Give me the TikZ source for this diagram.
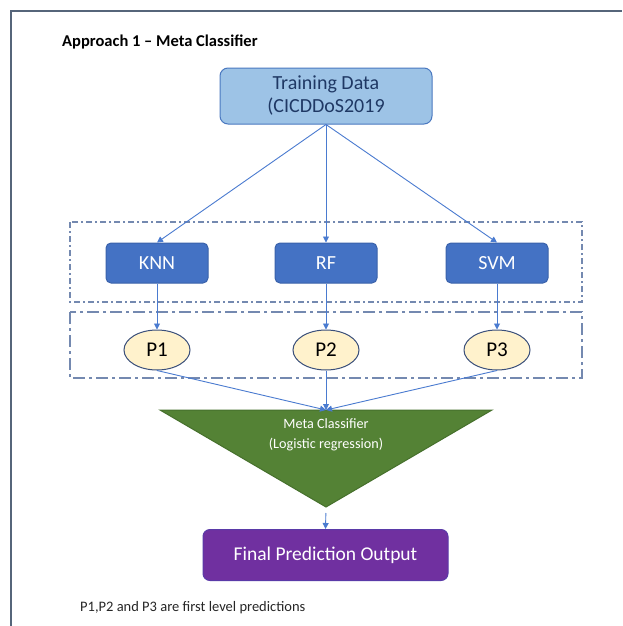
\documentclass[tikz,border=0pt]{standalone}
\usepackage{fontspec}
\setmainfont{Carlito}
\usetikzlibrary{arrows.meta,shapes.geometric}
\definecolor{framec}{HTML}{56657A}
\definecolor{arrowc}{HTML}{4A7BD0}
\definecolor{dashc}{HTML}{7489B0}
\definecolor{tdfill}{HTML}{9DC3E6}
\definecolor{tdborder}{HTML}{4A78C0}
\definecolor{tdtext}{HTML}{1F3864}
\definecolor{mfill}{HTML}{4472C4}
\definecolor{mborder}{HTML}{3A62AA}
\definecolor{pfill}{HTML}{FFF2CC}
\definecolor{pborder}{HTML}{3A4F7A}
\definecolor{gfill}{HTML}{548235}
\definecolor{gborder}{HTML}{46702C}
\definecolor{ffill}{HTML}{7030A0}
\definecolor{fborder}{HTML}{5A3AA8}
\tikzset{
  conn/.style={draw=arrowc, line width=0.9pt, -{Triangle[length=6pt,width=6pt]}},
  modelbox/.style={draw=mborder, fill=mfill, line width=1pt, rounded corners=5pt,
    minimum width=102pt, minimum height=40pt, text=white, font=\fontsize{20}{22}\selectfont},
  predell/.style={draw=pborder, fill=pfill, line width=1pt, ellipse,
    minimum width=66pt, minimum height=40pt, inner sep=0pt, font=\fontsize{21}{23}\selectfont},
  groupA/.style={draw=dashc, line width=1.5pt, dash pattern=on 6pt off 3pt on 2pt off 3pt},
  groupB/.style={draw=dashc, line width=1.5pt, dash pattern=on 12pt off 4pt on 3pt off 4pt},
}
\begin{document}
\begin{tikzpicture}[x=1pt,y=-1pt]
\useasboundingbox (0,0) rectangle (622,626);
\fill[white] (0,0) rectangle (622,626);
% frame
\draw[framec, line width=2.5pt] (11,626) -- (11,11) -- (622,11);
% title
\node[anchor=base west, inner sep=0pt, font=\fontsize{16.5}{18}\selectfont\bfseries] (title) at (62,47) {Approach 1 -- Meta Classifier};
% groups
\draw[groupA] (70,222) rectangle (582,302);
\draw[groupB] (70,312) rectangle (582,378);
% training
\node[draw=tdborder, fill=tdfill, line width=1pt, rounded corners=8pt,
  minimum width=212pt, minimum height=56pt, text=tdtext, align=center,
  font=\fontsize{20}{23}\selectfont] (train) at (326,96) {Training Data\\(CICDDoS2019};
% models
\node[modelbox] (knn) at (157,263) {KNN};
\node[modelbox] (rf) at (326,263) {RF};
\node[modelbox] (svm) at (497,263) {SVM};
% predictions
\node[predell] (p1) at (157,350) {P1};
\node[predell] (p2) at (326,350) {P2};
\node[predell] (p3) at (497,350) {P3};
% meta classifier triangle
\coordinate (tl) at (160,410);
\coordinate (tr) at (492,410);
\coordinate (apex) at (326,507);
\coordinate (mtop) at (326,410);
\draw[fill=gfill, draw=gborder, line width=1pt, line join=miter] (tl) -- (tr) -- (apex) -- cycle;
\node[text=white, align=center, font=\fontsize{14.2}{19.5}\selectfont] (meta) at (326,435) {Meta Classifier\\(Logistic regression)};
% final
\node[draw=fborder, fill=ffill, line width=1pt, rounded corners=7pt,
  minimum width=245pt, minimum height=51pt, text=white,
  font=\fontsize{19.5}{22}\selectfont] (final) at (325.5,555) {Final Prediction Output};
% footnote
\node[anchor=base west, inner sep=0pt, text=black!85, font=\fontsize{14.5}{16}\selectfont] (note) at (80,611) {P1,P2 and P3 are first level predictions};
% connectors
\draw[conn] (train.south) -- (knn.north);
\draw[conn] (train.south) -- (rf.north);
\draw[conn] (train.south) -- (svm.north);
\draw[conn] (knn.south) -- (p1.north);
\draw[conn] (rf.south) -- (p2.north);
\draw[conn] (svm.south) -- (p3.north);
\draw[conn] (p1.south) -- (mtop);
\draw[conn] (p2.south) -- (mtop);
\draw[conn] (p3.south) -- (mtop);
\draw[conn, shorten <=6pt] (apex) -- (final.north);
\end{tikzpicture}
\end{document}
